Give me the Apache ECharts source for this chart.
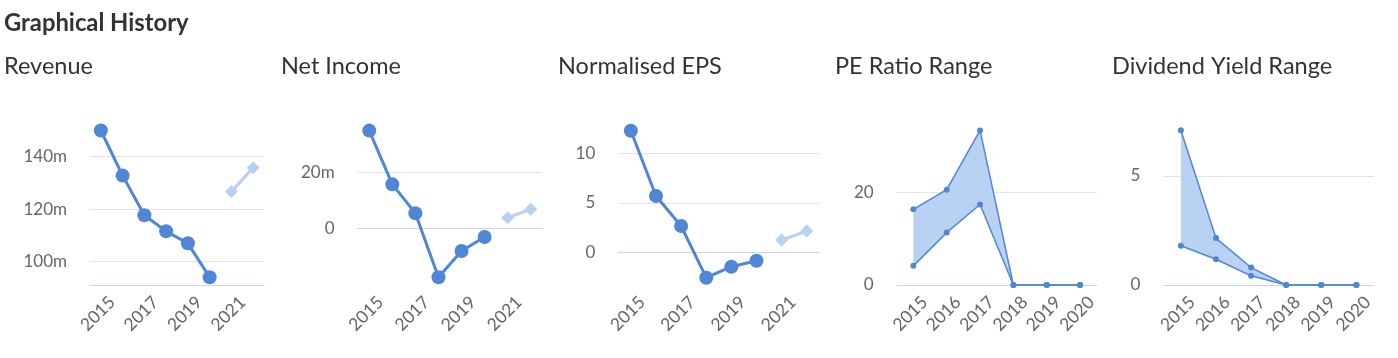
<!DOCTYPE html>
<html>
<head>
<meta charset="utf-8">
<script src="https://cdn.jsdelivr.net/npm/echarts@6/dist/echarts.min.js"></script>
<style>
html,body{margin:0;padding:0;background:#fff;}
#c{width:1398px;height:358px;}
</style>
</head>
<body>
<div id="c"></div>
<script>
// ---- data ----
const years8 = ['2015','2016','2017','2018','2019','2020','2021','2022'];
const years6 = ['2015','2016','2017','2018','2019','2020'];

const revenue = [150, 132.8, 117.7, 111.6, 107.0, 94.1, null, null];
const revenueForecast = [null, null, null, null, null, null, 126.7, 135.8];
const revenueTicks = [100, 120, 140];

const netIncome = [34.9, 15.7, 5.4, -17.5, -8.1, -3.1, null, null];
const netIncomeForecast = [null, null, null, null, null, null, 3.8, 6.8];
const netIncomeTicks = [0, 20];

const eps = [12.28, 5.69, 2.66, -2.56, -1.45, -0.85, null, null];
const epsForecast = [null, null, null, null, null, null, 1.24, 2.15];
const epsTicks = [0, 5, 10];

const peHigh = [16.4, 20.65, 33.5, 0, 0, 0];
const peLow = [4.15, 11.35, 17.45, 0, 0, 0];
const peTicks = [0, 20];

const divHigh = [7.09, 2.15, 0.80, 0, 0, 0];
const divLow = [1.80, 1.18, 0.42, 0, 0, 0];
const divTicks = [0, 5];

const panelTitles = ['Revenue', 'Net Income', 'Normalised EPS', 'PE Ratio Range', 'Dividend Yield Range'];

// ---- styles ----
const MAIN = '#5086d5';
const LIGHT = '#b8d0f4';
const BAND = '#b9d1f3';
const FONT = 'Lato';

const panels = [
  {left: 90, width: 174, cats: years8, min: 91.12, max: 149.8, ticks: revenueTicks, suffix: 'm', interval: 1},
  {left: 357.7, width: 184.6, cats: years8, min: -20.25, max: 34.75, ticks: netIncomeTicks, suffix: 'm', interval: 1},
  {left: 618.3, width: 201, cats: years8, min: -3.30, max: 12.26, ticks: epsTicks, suffix: '', interval: 1},
  {left: 896.7, width: 200, cats: years6, min: 0, max: 33.37, ticks: peTicks, suffix: '', interval: 0},
  {left: 1163.3, width: 210.7, cats: years6, min: 0, max: 7.06, ticks: divTicks, suffix: '', interval: 0}
];

const grids = [], xAxes = [], yAxes = [];
panels.forEach((p, i) => {
  grids.push({left: p.left, width: p.width, top: 131, height: 154});
  xAxes.push({
    type: 'category', gridIndex: i, data: p.cats, boundaryGap: true,
    axisTick: {show: false},
    axisLine: {lineStyle: {color: '#ccd6eb', width: 1}},
    axisLabel: {
      interval: p.interval, rotate: 45, margin: 3,
      verticalAlign: 'top', padding: [7, 0, 0, 0],
      color: '#666666', fontSize: 17.5, fontFamily: FONT
    },
    splitLine: {show: false}
  });
  yAxes.push({
    type: 'value', gridIndex: i, min: p.min, max: p.max,
    axisLine: {show: false},
    axisTick: {show: false, customValues: p.ticks.filter(v => v > p.min)},
    axisLabel: {
      customValues: p.ticks, margin: 23,
      color: '#666666', fontSize: 17, fontFamily: FONT,
      formatter: v => (v === 0 ? '0' : v + p.suffix)
    },
    splitLine: {show: true, lineStyle: {color: '#e3e3e3', width: 1}}
  });
});

function mainLine(i, data) {
  return {type: 'line', xAxisIndex: i, yAxisIndex: i, data: data, clip: false,
    symbol: 'circle', symbolSize: 14, connectNulls: false,
    lineStyle: {color: MAIN, width: 3}, itemStyle: {color: MAIN},
    emphasis: {disabled: true}, z: 3};
}
function forecastLine(i, data) {
  return {type: 'line', xAxisIndex: i, yAxisIndex: i, data: data, clip: false,
    symbol: 'diamond', symbolSize: 13,
    lineStyle: {color: LIGHT, width: 3}, itemStyle: {color: LIGHT},
    emphasis: {disabled: true}, z: 2};
}
function bandSeries(i, low, high) {
  const diff = high.map((h, k) => h - low[k]);
  return [
    {type: 'line', xAxisIndex: i, yAxisIndex: i, data: low, stack: 'band' + i, clip: false,
      symbol: 'circle', symbolSize: 6,
      lineStyle: {color: MAIN, width: 1.5}, itemStyle: {color: MAIN},
      emphasis: {disabled: true}, z: 3},
    {type: 'line', xAxisIndex: i, yAxisIndex: i, data: diff, stack: 'band' + i, clip: false,
      symbol: 'circle', symbolSize: 6,
      lineStyle: {color: MAIN, width: 1.5}, itemStyle: {color: MAIN},
      areaStyle: {color: BAND, opacity: 1},
      emphasis: {disabled: true}, z: 3}
  ];
}

const series = [
  mainLine(0, revenue), forecastLine(0, revenueForecast),
  mainLine(1, netIncome), forecastLine(1, netIncomeForecast),
  mainLine(2, eps), forecastLine(2, epsForecast),
  ...bandSeries(3, peLow, peHigh),
  ...bandSeries(4, divLow, divHigh)
];

const titleLefts = [4, 281, 558, 835, 1112];
const titles = [{text: 'Graphical History', left: 4, top: 11,
  textStyle: {fontFamily: FONT, fontSize: 23.8, fontWeight: 'bold', color: '#333333'}}];
panelTitles.forEach((t, i) => titles.push({text: t, left: titleLefts[i], top: 54,
  textStyle: {fontFamily: FONT, fontSize: 23.5, fontWeight: 'normal', color: '#333333'}}));

const chart = echarts.init(document.getElementById('c'), null, {renderer: 'canvas'});
chart.setOption({
  animation: false,
  title: titles.map(t => Object.assign({padding: 0}, t)),
  grid: grids, xAxis: xAxes, yAxis: yAxes, series: series
});
</script>
</body>
</html>
